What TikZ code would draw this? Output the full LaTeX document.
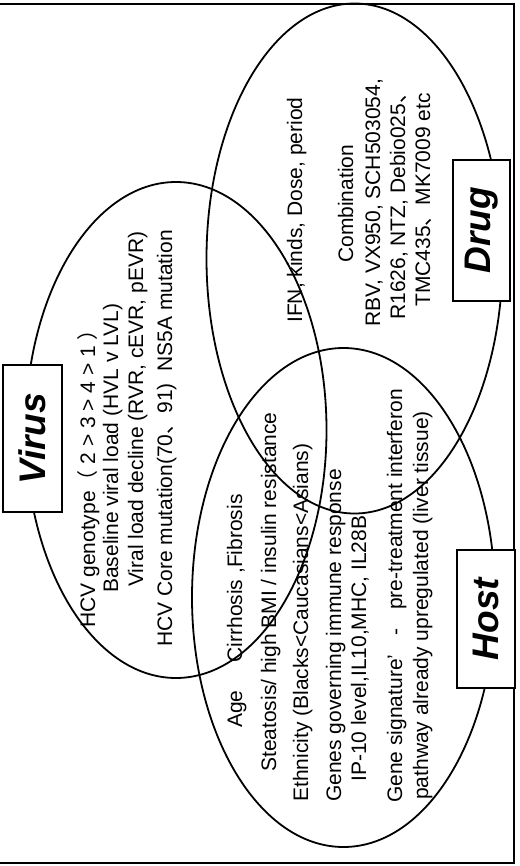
\documentclass[tikz,border=0pt]{standalone}
\usepackage{fontspec}
\setmainfont{Liberation Sans}
\newfontfamily\cjkfont{Noto Sans CJK JP}
\newcommand{\jcomma}{{\cjkfont 、}}
\begin{document}
\begin{tikzpicture}[x=1pt,y=-1pt,
  ring/.style={line width=1.8pt},
  entry/.style={rotate=90,anchor=base west,inner sep=0pt,font=\fontsize{21}{25}\selectfont},
  tag/.style={draw,line width=2.4pt,fill=white,rotate=90,inner sep=0pt,
    font=\fontsize{37}{40}\selectfont\bfseries\itshape}]
\useasboundingbox (0,0) rectangle (519,866);

% outer frame (open on the left)
\draw[line width=2pt] (0,4) -- (514,4) -- (514,863) -- (0,863);

% the three overlapping factor sets
\draw[ring] (176,430) ellipse [x radius=150.5pt, y radius=248pt];
\draw[ring] (354.5,258.5) ellipse [x radius=148pt, y radius=255pt];
\draw[ring] (343.5,597.5) ellipse [x radius=151.5pt, y radius=249.5pt];

% set labels
\node[tag,minimum width=147pt,minimum height=59pt] (virusTag) at (32.5,438.5) {Virus};
\node[tag,minimum width=141pt,minimum height=57pt] (drugTag) at (481.5,230.5) {Drug};
\node[tag,minimum width=138pt,minimum height=58pt] (hostTag) at (486,619) {Host};

% virus factors
\node[entry] (v1) at (95,628) {HCV genotype{\cjkfont （} 2 > 3 > 4 > 1 {\cjkfont ）}};
\node[entry] (v2) at (118,593) {Baseline viral load (HVL v LVL)};
\node[entry] (v3) at (143,587) {Viral load decline (RVR, cEVR, pEVR)};
\node[entry] (v4) at (172,647) {HCV Core mutation(70\jcomma 91)\ \ NS5A mutation};

% drug factors
\node[entry] (d1) at (302,323) {IFN, kinds, Dose, period};
\node[entry] (d2) at (353,263) {Combination};
\node[entry] (d3) at (380,327) {RBV, VX950, SCH503054,};
\node[entry] (d4) at (405,320) {R1626, NTZ, Debio025\jcomma};
\node[entry] (d5) at (430,307) {TMC435\jcomma MK7009 etc};

% host factors
\node[entry] (h1) at (242,728) {Age\hspace{28pt}Cirrhosis ,Fibrosis};
\node[entry] (h2) at (276,772) {Steatosis/ high BMI / insulin resistance};
\node[entry] (h3) at (308,802) {Ethnicity (Blacks<Caucasians<Asians)};
\node[entry] (h4) at (341,802) {Genes governing immune response};
\node[entry] (h5) at (366,782) {IP-10 level,IL10,MHC, IL28B};
\node[entry] (h6) at (402,803) {Gene signature’\hspace{0.9em}-\hspace{0.9em}pre-treatment interferon};
\node[entry] (h7) at (428,800) {pathway already upregulated (liver tissue)};
\end{tikzpicture}
\end{document}
